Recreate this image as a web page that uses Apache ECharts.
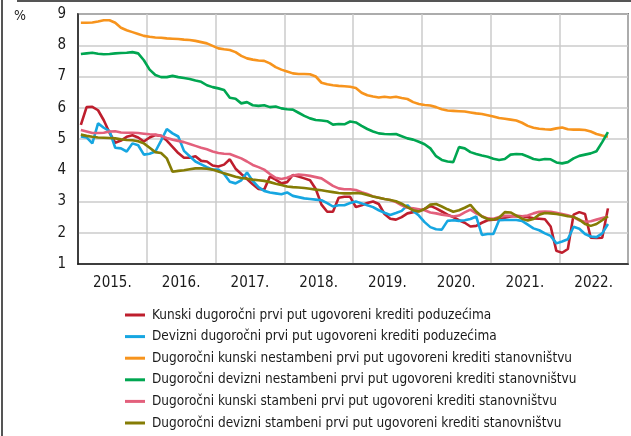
<!DOCTYPE html>
<html>
<head>
<meta charset="utf-8">
<title>Kamatne stope</title>
<script src="https://cdn.jsdelivr.net/npm/echarts@6/dist/echarts.min.js"></script>
<style>
  html, body { margin: 0; padding: 0; background: #fff; }
  #chart { width: 631px; height: 436px; }
</style>
</head>
<body>
<div id="chart"></div>
<script>
// godine na osi x (mjesečni podaci od siječnja 2015.)
var years = ['2015.', '2016.', '2017.', '2018.', '2019.', '2020.', '2021.', '2022.'];

var seriesNames = [
  'Kunski dugoročni prvi put ugovoreni krediti poduzećima',
  'Devizni dugoročni prvi put ugovoreni krediti poduzećima',
  'Dugoročni kunski nestambeni prvi put ugovoreni krediti stanovništvu',
  'Dugoročni devizni nestambeni prvi put ugovoreni krediti stanovništvu',
  'Dugoročni kunski stambeni prvi put ugovoreni krediti stanovništvu',
  'Dugoročni devizni stambeni prvi put ugovoreni krediti stanovništvu'
];

var kunPoduzeca = [
  5.45, 6.02, 6.03, 5.92, 5.60, 5.20, 4.88, 4.95, 5.07, 5.12, 5.05, 4.92,
  5.05, 5.13, 5.10, 4.95, 4.75, 4.55, 4.40, 4.40, 4.45, 4.30, 4.28, 4.15,
  4.12, 4.18, 4.35, 4.05, 3.88, 3.72, 3.55, 3.40, 3.38, 3.80, 3.70, 3.58,
  3.62, 3.85, 3.80, 3.74, 3.68, 3.40, 2.90, 2.67, 2.67, 3.12, 3.15, 3.15,
  2.82, 2.88, 2.95, 3.00, 2.92, 2.60, 2.45, 2.42, 2.50, 2.62, 2.66, 2.70,
  2.76, 2.86, 2.78, 2.68, 2.58, 2.50, 2.40, 2.32, 2.20, 2.22, 2.32, 2.40,
  2.42, 2.43, 2.48, 2.52, 2.54, 2.53, 2.50, 2.46, 2.45, 2.43, 2.20, 1.42,
  1.36, 1.48, 2.58, 2.66, 2.60, 1.84, 1.83, 1.84, 2.78
];
var devPoduzeca = [
  5.08, 5.05, 4.86, 5.50, 5.36, 5.25, 4.72, 4.70, 4.60, 4.86, 4.80, 4.50,
  4.53, 4.60, 4.95, 5.32, 5.18, 5.08, 4.62, 4.45, 4.28, 4.19, 4.10, 4.02,
  4.02, 3.88, 3.63, 3.58, 3.68, 3.93, 3.66, 3.46, 3.34, 3.29, 3.26, 3.23,
  3.29, 3.18, 3.14, 3.10, 3.08, 3.06, 3.04, 2.95, 2.84, 2.88, 2.88, 2.95,
  3.00, 2.94, 2.88, 2.82, 2.72, 2.64, 2.57, 2.63, 2.70, 2.88, 2.70, 2.55,
  2.34, 2.18, 2.11, 2.10, 2.38, 2.40, 2.38, 2.40, 2.44, 2.52, 1.93, 1.96,
  1.96, 2.40, 2.41, 2.41, 2.41, 2.38, 2.26, 2.14, 2.08, 1.98, 1.90, 1.66,
  1.72, 1.79, 2.19, 2.13, 1.96, 1.88, 1.86, 1.98, 2.28
];
var kunNestambeni = [
  8.72, 8.72, 8.73, 8.76, 8.80, 8.80, 8.72, 8.56, 8.48, 8.42, 8.36, 8.30,
  8.27, 8.25, 8.24, 8.22, 8.21, 8.20, 8.18, 8.17, 8.14, 8.10, 8.06, 7.98,
  7.90, 7.87, 7.85, 7.78, 7.66, 7.58, 7.54, 7.51, 7.50, 7.42, 7.30, 7.22,
  7.16, 7.10, 7.08, 7.08, 7.07, 7.00, 6.80, 6.75, 6.72, 6.70, 6.69, 6.67,
  6.63, 6.48, 6.40, 6.36, 6.33, 6.35, 6.33, 6.35, 6.31, 6.28, 6.18, 6.12,
  6.09, 6.07, 6.02, 5.95, 5.91, 5.90, 5.89, 5.88, 5.85, 5.82, 5.80, 5.76,
  5.72, 5.67, 5.65, 5.62, 5.59, 5.52, 5.42, 5.36, 5.33, 5.31, 5.30, 5.34,
  5.37, 5.31, 5.30, 5.30, 5.29, 5.24, 5.16, 5.11, 5.07
];
var devNestambeni = [
  7.72, 7.74, 7.76, 7.73, 7.71, 7.72, 7.74, 7.75, 7.76, 7.78, 7.74, 7.52,
  7.22, 7.05, 6.98, 6.98, 7.02, 6.98, 6.95, 6.92, 6.87, 6.83, 6.72, 6.66,
  6.62, 6.57, 6.32, 6.29, 6.14, 6.18, 6.08, 6.06, 6.08, 6.02, 6.04, 5.98,
  5.95, 5.94, 5.84, 5.74, 5.66, 5.61, 5.59, 5.57, 5.46, 5.48, 5.47, 5.56,
  5.53, 5.42, 5.32, 5.24, 5.18, 5.16, 5.15, 5.16, 5.09, 5.02, 4.98, 4.91,
  4.83, 4.70, 4.45, 4.33, 4.28, 4.26, 4.74, 4.70, 4.58, 4.52, 4.47, 4.43,
  4.37, 4.33, 4.36, 4.50, 4.52, 4.51, 4.44, 4.36, 4.33, 4.36, 4.35, 4.25,
  4.22, 4.26, 4.38, 4.46, 4.50, 4.54, 4.61, 4.90, 5.22
];
var kunStambeni = [
  5.29, 5.24, 5.19, 5.19, 5.20, 5.24, 5.25, 5.21, 5.20, 5.20, 5.19, 5.17,
  5.15, 5.14, 5.10, 5.03, 4.98, 4.94, 4.90, 4.84, 4.78, 4.72, 4.67, 4.60,
  4.55, 4.53, 4.52, 4.45, 4.38, 4.28, 4.17, 4.10, 4.02, 3.88, 3.76, 3.72,
  3.76, 3.83, 3.86, 3.85, 3.82, 3.78, 3.74, 3.62, 3.50, 3.42, 3.39, 3.39,
  3.37, 3.30, 3.24, 3.16, 3.12, 3.08, 3.05, 2.98, 2.88, 2.80, 2.78, 2.75,
  2.72, 2.65, 2.62, 2.58, 2.55, 2.52, 2.55, 2.65, 2.74, 2.62, 2.53, 2.46,
  2.45, 2.50, 2.54, 2.54, 2.52, 2.53, 2.55, 2.62, 2.67, 2.68, 2.67, 2.64,
  2.60, 2.56, 2.50, 2.40, 2.35, 2.37, 2.42, 2.47, 2.52
];
var devStambeni = [
  5.14, 5.10, 5.07, 5.05, 5.04, 5.03, 5.02, 4.99, 4.97, 4.96, 4.93, 4.86,
  4.72, 4.58, 4.55, 4.38, 3.95, 3.98, 4.00, 4.03, 4.06, 4.06, 4.05, 4.02,
  3.96, 3.90, 3.85, 3.79, 3.75, 3.73, 3.70, 3.68, 3.66, 3.62, 3.57, 3.53,
  3.48, 3.46, 3.45, 3.43, 3.41, 3.38, 3.36, 3.33, 3.30, 3.27, 3.26, 3.26,
  3.27, 3.26, 3.21, 3.16, 3.12, 3.08, 3.05, 3.01, 2.93, 2.82, 2.72, 2.68,
  2.76, 2.90, 2.92, 2.84, 2.75, 2.67, 2.72, 2.80, 2.89, 2.68, 2.52, 2.44,
  2.42, 2.48, 2.66, 2.65, 2.55, 2.45, 2.39, 2.44, 2.58, 2.63, 2.62, 2.60,
  2.57, 2.53, 2.51, 2.42, 2.28, 2.22, 2.28, 2.40, 2.53
];

var colors = ['#be1e2d', '#16a6e1', '#f7941d', '#00a651', '#e3607c', '#857c05'];
var allData = [kunPoduzeca, devPoduzeca, kunNestambeni, devNestambeni, kunStambeni, devStambeni];

var fontFam = '"Liberation Sans Narrow", "DejaVu Sans Condensed", "Liberation Sans", sans-serif';

// mjesec i -> sredina mjeseca na osi (0 = početak 2015.)
function toPoints(arr) {
  return arr.map(function (v, i) { return [i + 0.5, v]; });
}

var series = allData.map(function (arr, k) {
  return {
    name: seriesNames[k],
    type: 'line',
    xAxisIndex: 0,
    data: toPoints(arr),
    showSymbol: false,
    symbol: 'none',
    lineStyle: { width: 2.6, color: colors[k] },
    itemStyle: { color: colors[k] },
    animation: false
  };
});

var chart = echarts.init(document.getElementById('chart'));
chart.setOption({
  animation: false,
  grid: {
    left: 78, top: 14, right: 2, bottom: 172,
    show: true, borderColor: '#1a1a1a', borderWidth: 1.5, backgroundColor: 'transparent'
  },
  xAxis: [{
    type: 'value', min: 0, max: 96, interval: 12,
    axisLine: { show: true, lineStyle: { color: '#1a1a1a', width: 1.5 } },
    axisTick: { show: false },
    axisLabel: { show: false },
    splitLine: { show: true, lineStyle: { color: '#cbcbcb', width: 1.5 } }
  }, {
    type: 'value', min: 0, max: 96, interval: 6, position: 'bottom',
    axisLine: { show: false }, axisTick: { show: false }, splitLine: { show: false },
    axisLabel: {
      margin: 12, color: '#1a1a1a', fontSize: 15, fontFamily: fontFam,
      formatter: function (v) {
        return (v % 12 === 6) ? years[(v - 6) / 12] : '';
      }
    }
  }],
  yAxis: {
    type: 'value', min: 1, max: 9, interval: 1,
    axisLine: { show: true, lineStyle: { color: '#1a1a1a', width: 1.5 } },
    axisTick: { show: false },
    axisLabel: { margin: 12, color: '#1a1a1a', fontSize: 15, fontFamily: fontFam },
    splitLine: { show: true, lineStyle: { color: '#cbcbcb', width: 1.5 } }
  },
  legend: {
    orient: 'vertical', left: 120, top: 302,
    itemWidth: 20, itemHeight: 3, itemGap: 5.6,
    icon: 'rect',
    data: seriesNames,
    textStyle: { fontSize: 13.5, lineHeight: 16, color: '#1a1a1a', fontFamily: fontFam, padding: [0, 0, 0, 2] },
    selectedMode: false
  },
  graphic: [
    { type: 'text', left: 14, top: 9, style: { text: '%', fontSize: 14, fill: '#1a1a1a', fontFamily: fontFam } },
    { type: 'line', shape: { x1: 17, y1: 1, x2: 631, y2: 1 }, style: { stroke: '#555', lineWidth: 2 } },
    { type: 'line', shape: { x1: 2, y1: 0, x2: 2, y2: 436 }, style: { stroke: '#555', lineWidth: 2 } }
  ],
  series: series
});
</script>
</body>
</html>
